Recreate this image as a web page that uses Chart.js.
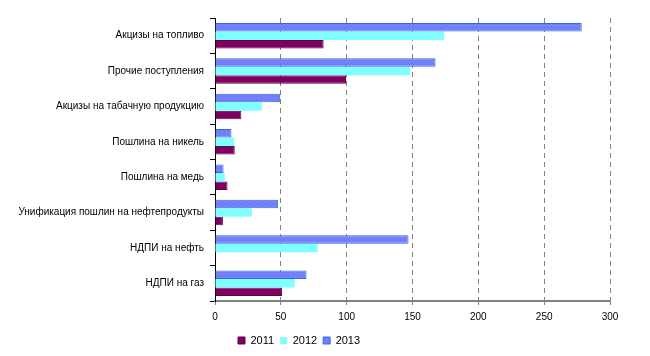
<!DOCTYPE html>
<html>
<head>
<meta charset="utf-8">
<script src="https://cdn.jsdelivr.net/npm/chart.js@4/dist/chart.umd.min.js"></script>
<style>
html,body{margin:0;padding:0;background:#fff;}
#wrap{width:650px;height:356px;position:relative;}
</style>
</head>
<body>
<div id="wrap"><canvas id="c" width="650" height="356"></canvas></div>
<script>
const categories = ['Акцизы на топливо','Прочие поступления','Акцизы на табачную продукцию','Пошлина на никель','Пошлина на медь','Унификация пошлин на нефтепродукты','НДПИ на нефть','НДПИ на газ'];
const years = ['2011','2012','2013'];
const values2011 = [82.5, 99.5, 20, 15, 9.5, 6, 0, 51];
const values2012 = [174, 148, 35.5, 14.5, 7.5, 28, 78, 60.5];
const values2013 = [278.5, 167.5, 49.5, 12.5, 6.5, 48, 147, 69.5];
const xTicks = [0, 50, 100, 150, 200, 250, 300];

function makePattern(base, dots) {
  const p = document.createElement('canvas');
  p.width = 4; p.height = 4;
  const g = p.getContext('2d');
  g.fillStyle = base; g.fillRect(0, 0, 4, 4);
  dots.forEach(d => { g.fillStyle = d[2]; g.fillRect(d[0], d[1], 1, 1); });
  return g.createPattern(p, 'repeat');
}
const ctx = document.getElementById('c').getContext('2d');
const pat2013 = makePattern('#8080ff', [[1,0,'#3a78f0'],[3,2,'#2f8ad8'],[0,3,'#5a70f0']]);

const FONT = "'Liberation Sans', Arial, sans-serif";

const legendShift = {
  id: 'legendShift',
  afterLayout(chart) {
    const lg = chart.legend;
    if (!lg) return;
    const w = lg.width;
    lg.left = 232; lg.right = 232 + w;
  }
};

new Chart(ctx, {
  type: 'bar',
  data: {
    labels: categories,
    datasets: [
      { label: years[2], data: values2013, backgroundColor: pat2013, borderColor: '#2a6fe8', borderWidth: 1 },
      { label: years[1], data: values2012, backgroundColor: '#80ffff', borderColor: '#80ffff', borderWidth: 0 },
      { label: years[0], data: values2011, backgroundColor: '#80005f', borderColor: '#600048', borderWidth: 1 }
    ]
  },
  options: {
    indexAxis: 'y',
    responsive: false,
    animation: false,
    devicePixelRatio: 1,
    layout: { padding: { top: 18, right: 40, bottom: 0, left: 0 } },
    datasets: { bar: { categoryPercentage: 0.72, barPercentage: 1.0 } },
    plugins: {
      tooltip: { enabled: false },
      legend: {
        position: 'bottom',
        align: 'start',
        labels: {
          sort: (a, b) => b.datasetIndex - a.datasetIndex,
          boxWidth: 7, boxHeight: 7, padding: 6,
          color: '#000',
          font: { family: FONT, size: 11 }
        }
      }
    },
    scales: {
      x: {
        min: 0, max: 300,
        afterBuildTicks: s => { s.ticks = xTicks.map(v => ({ value: v })); },
        afterFit: s => { s.height = 28; },
        ticks: { color: '#000', padding: 6, font: { family: FONT, size: 10 } },
        grid: {
          color: c => (c.index === 0 ? 'rgba(0,0,0,0)' : '#808080'),
          tickColor: '#808080',
          lineWidth: 1,
          tickLength: 4,
          drawTicks: true
        },
        border: { display: true, color: '#808080', width: 2, dash: [5, 4] }
      },
      y: {
        afterFit: s => { s.width = 215; },
        ticks: { color: '#000', padding: 6, font: { family: FONT, size: 10 } },
        grid: { drawOnChartArea: false, drawTicks: true, tickLength: 5, color: '#000', offset: true },
        border: { display: true, color: '#000', width: 1 }
      }
    }
  },
  plugins: [legendShift]
});
</script>
</body>
</html>
